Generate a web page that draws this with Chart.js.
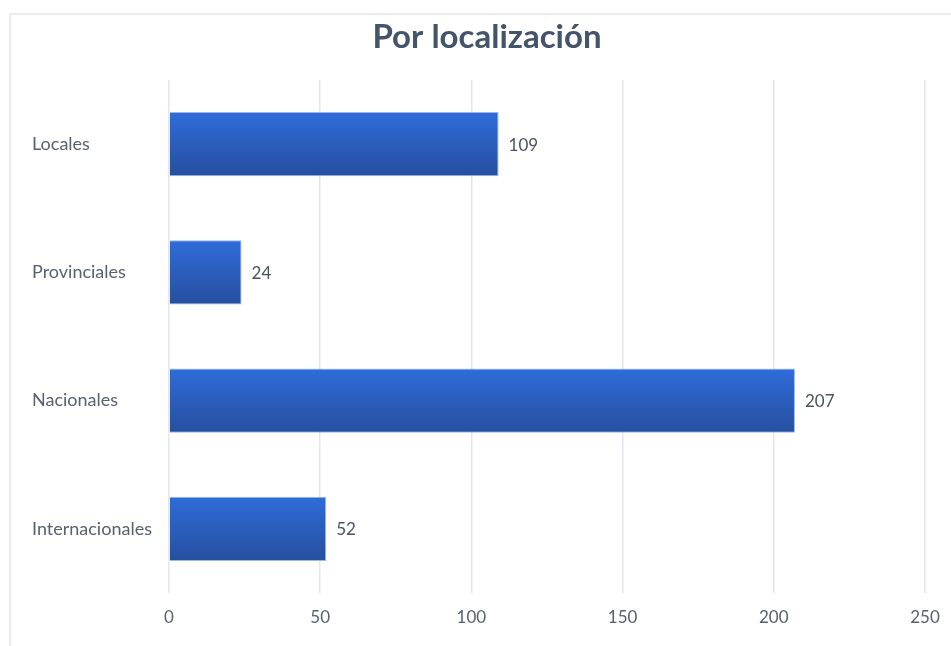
<!DOCTYPE html>
<html>
<head>
<meta charset="utf-8">
<script src="https://cdn.jsdelivr.net/npm/chart.js@4.4.1/dist/chart.umd.min.js"></script>
<style>
  html, body { margin: 0; padding: 0; background: #ffffff; overflow: hidden; }
  #wrap { position: relative; width: 951px; height: 646px; overflow: hidden; }
  #frame { position: absolute; left: 9px; top: 13px; width: 1000px; height: 700px; border: 2px solid #ebebeb; box-sizing: border-box; }
  canvas { position: absolute; left: 0; top: 0; }
</style>
</head>
<body>
<div id="wrap">
  <div id="frame"></div>
  <canvas id="c" width="970" height="646"></canvas>
</div>
<script>
const categories = ["Locales", "Provinciales", "Nacionales", "Internacionales"];
const values = [109, 24, 207, 52];
const tickValues = [0, 50, 100, 150, 200, 250];
const chartTitle = "Por localización";

const valueLabels = {
  id: 'valueLabels',
  afterDatasetsDraw(chart) {
    const ctx = chart.ctx;
    const meta = chart.getDatasetMeta(0);
    ctx.save();
    ctx.font = '17px Lato';
    ctx.fillStyle = '#4a5262';
    ctx.textAlign = 'left';
    ctx.textBaseline = 'middle';
    meta.data.forEach((bar, i) => {
      ctx.fillText(String(values[i]), bar.x + 10, bar.y + 1);
    });
    ctx.restore();
  }
};

const titleDraw = {
  id: 'titleDraw',
  afterDraw(chart) {
    const ctx = chart.ctx;
    ctx.save();
    ctx.font = 'bold 33px Lato';
    ctx.fillStyle = '#44546a';
    ctx.textAlign = 'center';
    ctx.textBaseline = 'alphabetic';
    ctx.fillText(chartTitle, 487, 48);
    ctx.restore();
  }
};

function barGradient(context) {
  const chart = context.chart;
  const yScale = chart.scales && chart.scales.y;
  if (!chart.chartArea || !yScale || context.dataIndex === undefined) return '#2b5fc4';
  const yc = yScale.getPixelForValue(context.dataIndex);
  const half = 32;
  const g = chart.ctx.createLinearGradient(0, yc - half, 0, yc + half);
  g.addColorStop(0, '#2f6cd9');
  g.addColorStop(1, '#264f9f');
  return g;
}

new Chart(document.getElementById('c'), {
  type: 'bar',
  data: {
    labels: categories,
    datasets: [{
      data: values,
      backgroundColor: barGradient,
      borderColor: 'rgba(140,175,235,0.9)',
      borderWidth: 1,
      categoryPercentage: 1,
      barPercentage: 0.5
    }]
  },
  options: {
    indexAxis: 'y',
    responsive: false,
    animation: false,
    devicePixelRatio: 1,
    layout: { padding: { left: 32, right: 45, top: 80, bottom: 0 } },
    plugins: {
      legend: { display: false },
      tooltip: { enabled: false },
      title: { display: false }
    },
    scales: {
      x: {
        min: 0,
        max: 250,
        afterBuildTicks(scale) { scale.ticks = tickValues.map(v => ({ value: v })); },
        afterFit(scale) { scale.height = 646 - 593; },
        grid: { color: '#e3e6eb', lineWidth: 1.5, drawTicks: false },
        border: { display: false },
        ticks: { color: '#596070', font: { family: 'Lato', size: 17 }, padding: 14 }
      },
      y: {
        grid: { display: false, drawTicks: false },
        border: { display: false },
        afterFit(scale) { scale.width = 169 - 32; },
        ticks: {
          crossAlign: 'far',
          color: '#596070',
          font: { family: 'Lato', size: 18 },
          padding: 0
        }
      }
    }
  },
  plugins: [valueLabels, titleDraw]
});
</script>
</body>
</html>
